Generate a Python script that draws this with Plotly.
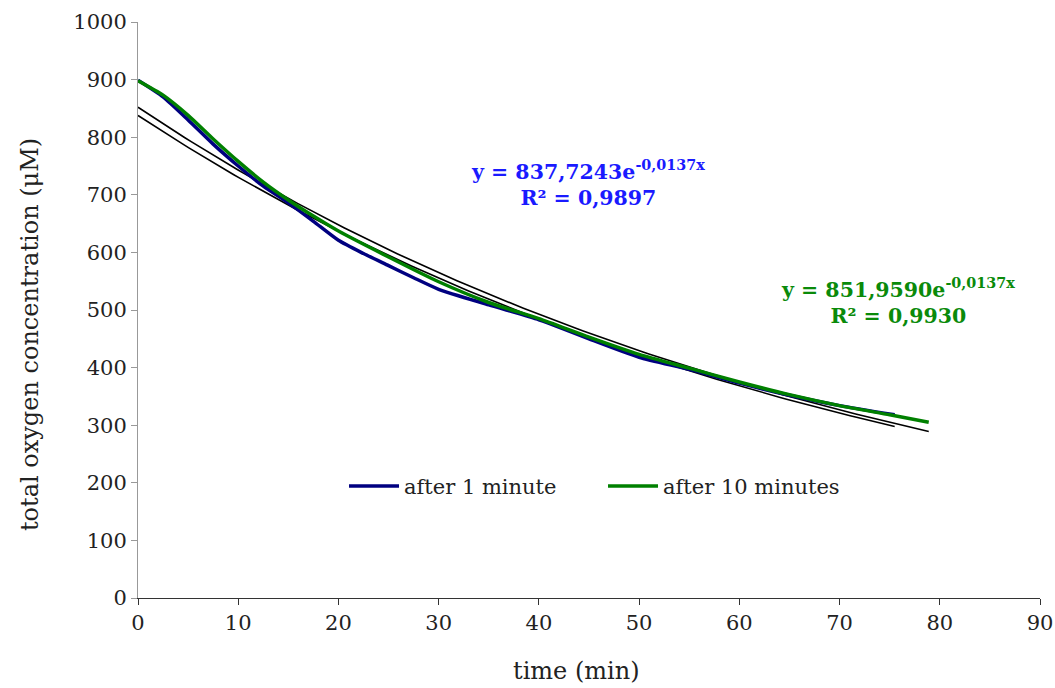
import numpy as np
import plotly.graph_objects as go

time_1min = [0, 2.5, 5, 7.5, 10, 12.5, 15, 17.5, 20, 22.5, 25, 27.5, 30, 35, 40, 42.5, 45, 50, 55, 60, 65, 70, 75.5]
conc_1min = [899, 870, 830, 788, 750, 715, 686, 654, 621, 598, 577, 556, 536, 509, 483, 467, 450, 418, 397, 373, 352, 334, 318]

time_10min = [0, 2.5, 5, 7.5, 10, 12.5, 15, 17.5, 20, 25, 30, 35, 40, 45, 50, 55, 60, 65, 70, 75, 78.9]
conc_10min = [898, 873, 838, 797, 758, 722, 691, 663, 637, 592, 549, 513, 485, 453, 423, 399, 375, 353, 334, 318, 305]

# Exponential trendline coefficients (as printed on the chart)
fit_1min = (837.7243, -0.0137)
fit_10min = (851.9590, -0.0137)

y_ticks = list(range(0, 1001, 100))
x_ticks = list(range(0, 91, 10))

FONT = "DejaVu Serif"

fig = go.Figure()

for xs, (a, b) in [(time_1min, fit_1min), (time_10min, fit_10min)]:
    tx = np.linspace(min(xs), max(xs), 120)
    fig.add_trace(go.Scatter(x=tx, y=a * np.exp(b * tx), mode="lines",
                             line=dict(color="black", width=1.6),
                             showlegend=False, hoverinfo="skip"))

fig.add_trace(go.Scatter(x=time_1min, y=conc_1min, mode="lines", name="after 1 minute",
                         line=dict(color="#000080", width=3.5, shape="spline", smoothing=0.6)))
fig.add_trace(go.Scatter(x=time_10min, y=conc_10min, mode="lines", name="after 10 minutes",
                         line=dict(color="#008000", width=3.5, shape="spline", smoothing=0.6)))

fig.add_annotation(x=44.9, y=720, xref="x", yref="y", showarrow=False,
                   text="<b>y = 837,7243e<sup>-0,0137x</sup><br>R² = 0,9897</b>",
                   font=dict(family=FONT, size=20.5, color="#1a1aff"), align="center")
fig.add_annotation(x=75.8, y=515, xref="x", yref="y", showarrow=False,
                   text="<b>y = 851,9590e<sup>-0,0137x</sup><br>R² = 0,9930</b>",
                   font=dict(family=FONT, size=20.5, color="#0a8a0a"), align="center")

# Axis titles as annotations (positioned like the reference)
fig.add_annotation(x=-0.1197, y=0.4566, xref="paper", yref="paper", showarrow=False,
                   text="total oxygen concentration (μM)", textangle=-90,
                   xanchor="center", yanchor="middle",
                   font=dict(family=FONT, size=24, color="#222"))
fig.add_annotation(x=0.486, y=-0.1545, xref="paper", yref="paper", showarrow=False,
                   text="time (min)", xanchor="center", yanchor="bottom",
                   font=dict(family=FONT, size=24, color="#222"))

fig.update_layout(
    width=1055, height=688,
    margin=dict(l=138, r=15, t=22, b=90, autoexpand=False),
    paper_bgcolor="white", plot_bgcolor="white",
    font=dict(family=FONT, size=21, color="#222"),
    legend=dict(orientation="h", x=0.2284, y=0.194, xanchor="left", yanchor="middle",
                font=dict(family=FONT, size=21, color="#222"), bgcolor="rgba(0,0,0,0)",
                itemwidth=50, entrywidth=194, entrywidthmode="pixels", tracegroupgap=0),
    xaxis=dict(range=[0, 90], tickvals=x_ticks, ticks="outside", ticklen=6, tickcolor="#333",
               showline=True, linecolor="#333", linewidth=1, showgrid=False, zeroline=False,
               tickfont=dict(size=21), automargin=False, fixedrange=True),
    yaxis=dict(range=[0, 1000], tickvals=y_ticks, ticks="outside", ticklen=6, tickcolor="#999",
               showline=True, linecolor="#999", linewidth=1, showgrid=False, zeroline=False,
               tickfont=dict(size=21), automargin=False, fixedrange=True),
)

fig.write_html("out.html", config={"displayModeBar": False},
               post_script="document.body.style.margin='0';document.body.style.overflow='hidden';")
